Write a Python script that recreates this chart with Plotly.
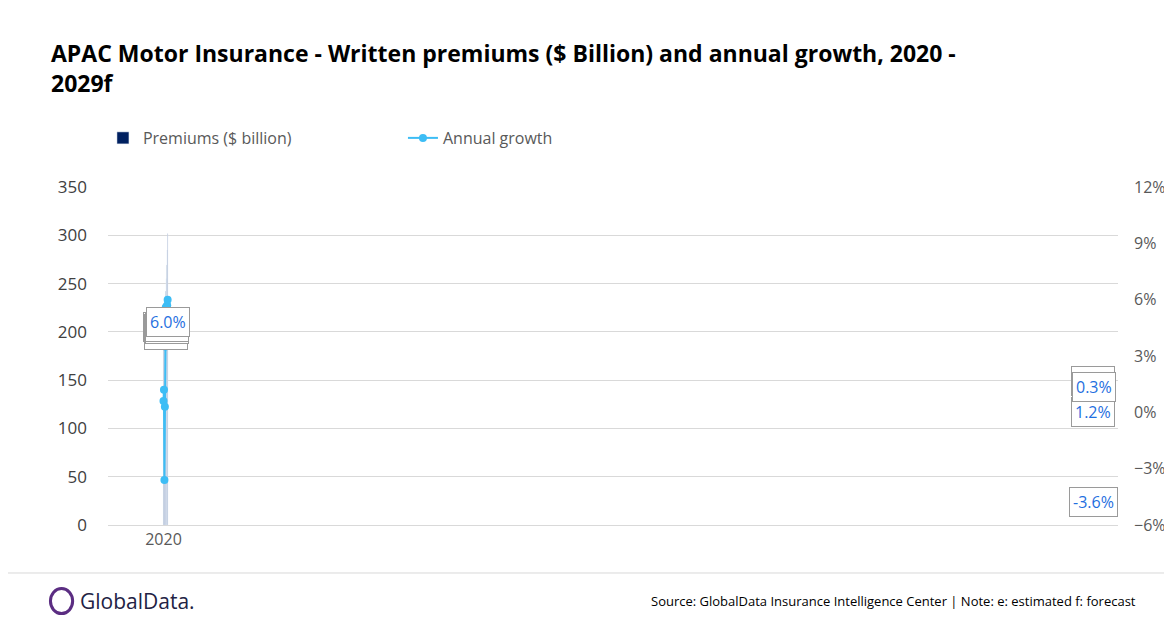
import plotly.graph_objects as go

years = ["2020", "2021", "2022", "2023", "2024e", "2025f", "2026f", "2027f", "2028f", "2029f"]
premiums = [226.5, 229.3, 220.9, 221.5, 229.2, 242.1, 255.0, 269.2, 284.7, 301.7]
growth = [0.6, 1.2, -3.6, 0.3, 3.5, 5.6, 5.3, 5.6, 5.7, 6.0]
label_above = [True, False, False, True, True, False, False, False, False, False]

navy = "#002060"
light_blue = "#3DBDF5"
font_family = "Open Sans, Liberation Sans, sans-serif"

fig = go.Figure()
fig.add_bar(
    x=years, y=premiums, name="Premiums ($ billion)", marker_color=navy, width=0.65,
    text=[f"{v:.1f}" for v in premiums], textposition="outside",
    textfont=dict(size=17, color="#1a1a2e"), cliponaxis=False,
)
fig.add_scatter(
    x=years, y=growth, name="Annual growth", yaxis="y2", mode="lines+markers",
    line=dict(color=light_blue, width=2), marker=dict(size=8, color=light_blue),
)

for yr, g, above in zip(years, growth, label_above):
    fig.add_annotation(
        x=yr, y=g, yref="y2", text=f"{g:.1f}%", showarrow=False,
        yshift=20 if above else -22, bgcolor="white", bordercolor="#9a9a9a",
        borderwidth=1, borderpad=3, font=dict(size=16, color="#1F6FE0"),
    )

fig.add_annotation(
    x=-0.058, y=1.45, xref="paper", yref="paper", xanchor="left", yanchor="top",
    text="<b>APAC Motor Insurance - Written premiums ($ Billion) and annual growth, 2020 -<br>2029f</b>",
    showarrow=False, align="left", font=dict(size=23, color="black"),
)
fig.add_annotation(
    x=-0.03, y=-0.225, xref="paper", yref="paper", xanchor="left", yanchor="middle",
    text="GlobalData.", showarrow=False, font=dict(size=21, color="#222244"),
)
fig.add_shape(type="circle", xref="paper", yref="paper", x0=-0.057, x1=-0.035, y0=-0.262, y1=-0.188,
              line=dict(color="#5B2D82", width=3))
fig.add_annotation(
    x=1.02, y=-0.225, xref="paper", yref="paper", xanchor="right", yanchor="middle",
    text="Source: GlobalData Insurance Intelligence Center | Note: e: estimated f: forecast",
    showarrow=False, font=dict(size=13, color="black"),
)
fig.add_shape(type="line", xref="paper", yref="paper", x0=-0.1, x1=1.06, y0=-0.142, y1=-0.142,
              line=dict(color="#d9d9d9", width=1))

fig.update_layout(
    width=1172, height=628, margin=dict(l=100, r=62, t=179, b=111),
    paper_bgcolor="white", plot_bgcolor="white",
    font=dict(family=font_family, size=17, color="#595959"),
    showlegend=True,
    legend=dict(orientation="h", x=-0.005, y=1.145, xanchor="left", yanchor="middle",
                font=dict(size=16, color="#595959"), entrywidth=255),
    xaxis=dict(type="category", showgrid=False, showline=True, linecolor="#d9d9d9", ticks="",
               tickfont=dict(size=16)),
    yaxis=dict(range=[0, 350], dtick=50, gridcolor="#d9d9d9", showline=False,
               zeroline=False, tickfont=dict(size=17, color="#404040"), ticklabelstandoff=20),
    yaxis2=dict(range=[-6, 12], dtick=3, overlaying="y", side="right", showgrid=False,
                zeroline=False, ticksuffix="%", tickfont=dict(size=16, color="#595959"),
                ticklabelstandoff=15),
    bargap=0.35,
)

fig.write_html("out.html")
